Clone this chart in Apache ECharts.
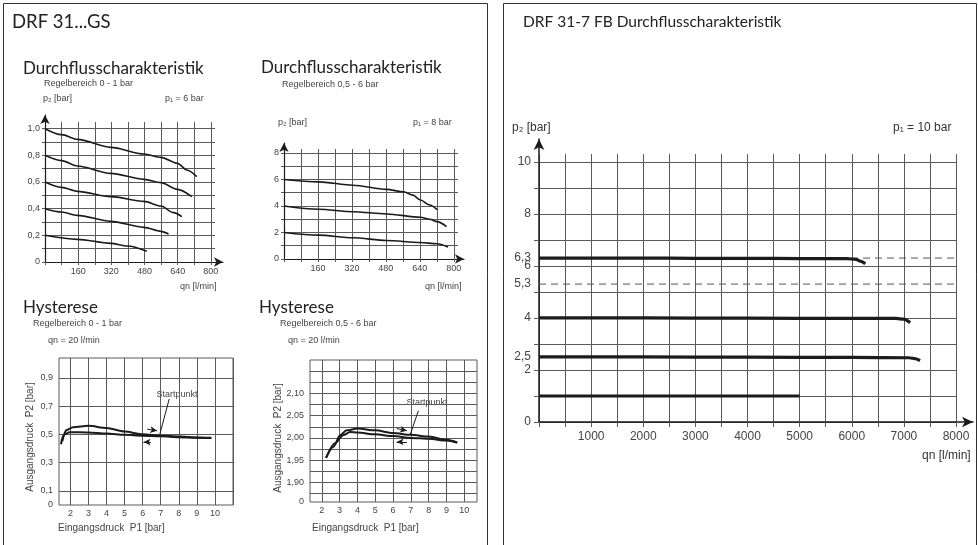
<!DOCTYPE html>
<html><head><meta charset="utf-8">
<script src="https://cdn.jsdelivr.net/npm/echarts@6/dist/echarts.min.js"></script>
<style>html,body{margin:0;padding:0;background:#fff}#c{width:978px;height:545px}</style>
</head><body><div id="c"></div>
<script>
// ================= DATA =================
// Chart A: Durchflusscharakteristik, Regelbereich 0 - 1 bar  (x: qn l/min, y: p2 bar)
const flowA_xTicks = [0,80,160,240,320,400,480,560,640,720,800];
const flowA_xLabels = [160,320,480,640,800];
const flowA_yTicks = [0,0.1,0.2,0.3,0.4,0.5,0.6,0.7,0.8,0.9,1.0];
const flowA_yLabels = [0,0.2,0.4,0.6,0.8,1.0];
const flowA_p2_10 = [[0,1.0],[80,0.955],[156,0.92],[317,0.86],[478,0.81],[559,0.785],[639,0.74],[684,0.69],[732,0.64]];
const flowA_p2_08 = [[0,0.8],[80,0.76],[156,0.72],[317,0.665],[478,0.62],[559,0.595],[639,0.545],[708,0.49]];
const flowA_p2_06 = [[0,0.6],[80,0.56],[156,0.53],[317,0.49],[478,0.455],[559,0.42],[620,0.37],[660,0.34]];
const flowA_p2_04 = [[0,0.4],[80,0.375],[156,0.35],[317,0.305],[478,0.26],[559,0.23],[596,0.21]];
const flowA_p2_02 = [[0,0.2],[156,0.17],[317,0.14],[398,0.12],[491,0.08]];

// Chart B: Durchflusscharakteristik, Regelbereich 0,5 - 6 bar
const flowB_xTicks = [0,80,160,240,320,400,480,560,640,720,800];
const flowB_xLabels = [160,320,480,640,800];
const flowB_yTicks = [0,1,2,3,4,5,6,7,8];
const flowB_yLabels = [0,2,4,6,8];
const flowB_p2_6 = [[0,6.0],[163,5.82],[325,5.57],[483,5.25],[564,5.07],[608,4.82],[643,4.45],[687,4.07],[721,3.72]];
const flowB_p2_4 = [[0,4.0],[163,3.75],[325,3.57],[483,3.4],[643,3.15],[687,3.0],[721,2.82],[766,2.45]];
const flowB_p2_2 = [[0,2.0],[163,1.8],[325,1.6],[483,1.4],[643,1.25],[721,1.15],[773,0.9]];

// Chart C: Hysterese, Regelbereich 0 - 1 bar, qn = 20 l/min (x: P1 bar, y: P2 bar)
const hystC_xTicks = [2,3,4,5,6,7,8,9,10,11];
const hystC_xLabels = [2,3,4,5,6,7,8,9,10];
const hystC_yTicks = [0.1,0.3,0.5,0.7,0.9];
const hystC_yLabels = [0,0.1,0.3,0.5,0.7,0.9];
const hystC_rising = [[1.48,0.43],[1.6,0.49],[1.78,0.53],[2.15,0.55],[3.0,0.56],[4.0,0.545],[5.0,0.52],[6.0,0.5],[7.0,0.49],[8.0,0.485],[9.0,0.478],[9.8,0.476]];
const hystC_falling = [[1.55,0.45],[1.68,0.5],[1.96,0.515],[3.0,0.513],[4.0,0.505],[5.0,0.497],[6.0,0.49],[7.0,0.486],[8.0,0.48],[9.0,0.476],[9.8,0.474]];

// Chart D: Hysterese, Regelbereich 0,5 - 6 bar, qn = 20 l/min
const hystD_xTicks = [2,3,4,5,6,7,8,9,10];
const hystD_xLabels = [2,3,4,5,6,7,8,9,10];
const hystD_yTicks = [1.875,1.9,1.925,1.95,1.975,2.0,2.025,2.05,2.075,2.1,2.125,2.15];
const hystD_yLabels = [1.856,1.90,1.95,2.00,2.05,2.10];
const hystD_rising = [[2.24,1.955],[2.65,1.98],[3.03,2.006],[3.4,2.017],[4.0,2.021],[5.0,2.017],[6.0,2.011],[7.0,2.007],[8.0,2.003],[9.0,1.996],[9.6,1.99]];
const hystD_falling = [[2.24,1.955],[2.75,1.988],[3.2,2.006],[3.6,2.013],[4.0,2.012],[5.0,2.008],[6.0,2.004],[7.0,2.0],[8.0,1.998],[9.0,1.994],[9.6,1.989]];

// Chart E: DRF 31-7 FB Durchflusscharakteristik, p1 = 10 bar
const flowE_xTicks = [0,500,1000,1500,2000,2500,3000,3500,4000,4500,5000,5500,6000,6500,7000,7500,8000];
const flowE_xLabels = [1000,2000,3000,4000,5000,6000,7000,8000];
const flowE_yTicks = [0,1,2,3,4,5,6,7,8,9,10];
const flowE_yLabels = [0,2,2.5,4,5.3,6,6.3,8,10];
const flowE_p2_63 = [[0,6.3],[1000,6.3],[2000,6.3],[3000,6.29],[4000,6.29],[5000,6.28],[5900,6.28],[6080,6.25],[6180,6.17],[6260,6.08]];
const flowE_p2_4 = [[0,4.0],[2000,4.0],[4000,3.99],[6000,3.98],[6850,3.98],[7000,3.95],[7120,3.82]];
const flowE_p2_25 = [[0,2.5],[2000,2.5],[4000,2.49],[6000,2.48],[7100,2.47],[7230,2.43],[7310,2.36]];
const flowE_p2_1 = [[0,1.0],[5000,1.0]];
const flowE_ref63 = [[0,6.3],[8000,6.3]];
const flowE_ref53 = [[0,5.3],[8000,5.3]];

// ================= BUILD =================
const INK = '#1b1b1b', GRIDC = '#5a5a5a', LBL = '#444';
const ARIAL = 'Liberation Sans, Arial, sans-serif';
const TITLE = 'Lato, Noto Sans, sans-serif';
const grids = [], xAxes = [], yAxes = [], series = [];

function addPlot(o) {
  const gi = grids.length;
  grids.push(Object.assign({show: !!o.frame, borderColor: GRIDC, borderWidth: 1, backgroundColor: 'transparent', containLabel: false, outerBoundsMode: 'none'}, o.rect));
  const fs = o.fontSize || 9;
  xAxes.push({type: 'value', gridIndex: gi, min: o.x.min, max: o.x.max,
    axisLine: {show: false, onZero: false},
    axisTick: {show: !o.frame, customValues: o.x.ticks, length: o.tickLen || 3, lineStyle: {color: GRIDC}},
    axisLabel: {customValues: o.x.labels, fontSize: fs, fontFamily: ARIAL, color: LBL, margin: o.x.margin || 5, formatter: o.x.fmt || (v => String(v))},
    splitLine: {show: true, lineStyle: {color: GRIDC, width: 1}}});
  yAxes.push({type: 'value', gridIndex: gi, min: o.y.min, max: o.y.max,
    axisLine: {show: false, onZero: false},
    axisTick: {show: !o.frame, customValues: o.y.ticks, length: o.tickLen || 3, lineStyle: {color: GRIDC}},
    axisLabel: {customValues: o.y.labels, fontSize: fs, fontFamily: ARIAL, color: LBL, margin: o.y.margin || 5, formatter: o.y.fmt || (v => String(v))},
    splitLine: {show: true, lineStyle: {color: GRIDC, width: 1}}});
  (o.lines || []).forEach(l => series.push(Object.assign({type: 'line', xAxisIndex: gi, yAxisIndex: gi, data: l.data,
    showSymbol: false, smooth: l.smooth === undefined ? 0.3 : l.smooth, smoothMonotone: 'x', z: l.z || 3,
    lineStyle: Object.assign({color: INK, width: l.width || 1.6}, l.style || {})}, l.extra || {})));
  if (o.arrows) {
    const ai = grids.length;
    grids.push(Object.assign({show: false, containLabel: false, outerBoundsMode: 'none'}, o.arrows));
    const ax = {show: true, onZero: false, symbol: ['none', 'arrow'], symbolSize: o.arrowSize || [7, 9], lineStyle: {color: INK, width: o.axisW || 1.2}};
    xAxes.push({type: 'value', gridIndex: ai, min: 0, max: 1, axisLine: ax, axisTick: {show: false}, axisLabel: {show: false}, splitLine: {show: false}});
    yAxes.push({type: 'value', gridIndex: ai, min: 0, max: 1, axisLine: ax, axisTick: {show: false}, axisLabel: {show: false}, splitLine: {show: false}});
  }
  return gi;
}
const comma = d => v => (v === 0 ? '0' : v.toFixed(d).replace('.', ','));

function pointerArrows(pairs) { // annotation arrows in data coordinates
  return {symbol: ['none', 'arrow'], symbolSize: [5, 7], silent: true, label: {show: false},
    lineStyle: {color: INK, width: 1, type: 'solid'},
    data: pairs.map(p => [{coord: p[0]}, {coord: p[1]}])};
}
function leader(pair) {
  return {symbol: ['none', 'none'], silent: true, label: {show: false}, lineStyle: {color: INK, width: 1, type: 'solid'},
    data: [[{coord: pair[0]}, {coord: pair[1]}]]};
}

// Chart A
addPlot({rect: {left: 45, top: 122, width: 170, height: 140},
  x: {min: 0, max: 820, ticks: flowA_xTicks, labels: flowA_xLabels},
  y: {min: 0, max: 1.05, ticks: flowA_yTicks, labels: flowA_yLabels, fmt: comma(1)},
  arrows: {left: 45, top: 115, width: 178, height: 147},
  lines: [flowA_p2_10, flowA_p2_08, flowA_p2_06, flowA_p2_04, flowA_p2_02].map(d => ({data: d}))});

// Chart B
addPlot({rect: {left: 284, top: 149, width: 174, height: 110},
  x: {min: 0, max: 820, ticks: flowB_xTicks, labels: flowB_xLabels},
  y: {min: 0, max: 8.3, ticks: flowB_yTicks, labels: flowB_yLabels},
  arrows: {left: 284, top: 143, width: 180, height: 116},
  lines: [flowB_p2_6, flowB_p2_4, flowB_p2_2].map(d => ({data: d}))});

// Chart C
addPlot({rect: {left: 59, top: 358, width: 174, height: 147}, frame: true,
  x: {min: 1.37, max: 11, ticks: hystC_xTicks, labels: hystC_xLabels, margin: 4},
  y: {min: 0, max: 1.04, ticks: hystC_yTicks, labels: hystC_yLabels, fmt: comma(1), margin: 6},
  lines: [
    {data: hystC_rising, width: 2, extra: {markLine: pointerArrows([[[6.25, 0.537], [6.8, 0.525]], [[6.45, 0.445], [6.05, 0.445]]])}},
    {data: hystC_falling, width: 2, extra: {markLine: leader([[7.47, 0.75], [6.95, 0.5]])}}
  ]});

// Chart D
addPlot({rect: {left: 310, top: 360, width: 167, height: 142}, frame: true,
  x: {min: 1.34, max: 10.71, ticks: hystD_xTicks, labels: hystD_xLabels, margin: 4},
  y: {min: 1.856, max: 2.175, ticks: hystD_yTicks, labels: hystD_yLabels, fmt: v => (v < 1.87 ? '0' : v.toFixed(2).replace('.', ',')), margin: 6},
  lines: [
    {data: hystD_rising, width: 2, extra: {markLine: pointerArrows([[[6.2, 2.021], [6.78, 2.016]], [[6.78, 1.991], [6.2, 1.991]]])}},
    {data: hystD_falling, width: 2, extra: {markLine: leader([[7.42, 2.061], [6.96, 2.007]])}}
  ]});

// Chart E
addPlot({rect: {left: 539, top: 154, width: 417, height: 268},
  x: {min: 0, max: 8000, ticks: flowE_xTicks, labels: flowE_xLabels, margin: 9},
  y: {min: 0, max: 10.3, ticks: flowE_yTicks, labels: flowE_yLabels, margin: 8, fmt: v => (Number.isInteger(v) ? String(v) : v.toFixed(1).replace('.', ','))},
  fontSize: 12, tickLen: 5,
  arrows: {left: 539, top: 139, width: 434, height: 283}, arrowSize: [8, 11], axisW: 1.5,
  lines: [
    {data: flowE_ref63, smooth: false, width: 1, style: {type: [7, 5], color: '#555'}, z: 2},
    {data: flowE_ref53, smooth: false, width: 1, style: {type: [7, 5], color: '#555'}, z: 2},
    {data: flowE_p2_63, width: 3.2, smooth: 0.2},
    {data: flowE_p2_4, width: 3.2, smooth: 0.2},
    {data: flowE_p2_25, width: 3.2, smooth: 0.2},
    {data: flowE_p2_1, width: 3.2, smooth: false}
  ]});

function txt(x, y, s, size, font, color, extra) {
  return Object.assign({type: 'text', x: x, y: y, silent: true, style: {text: s, fontSize: size, fontFamily: font || ARIAL, fill: color || LBL, textVerticalAlign: 'middle', textAlign: 'left'}}, extra || {});
}
function ctxt(x, y, s, size, rot) {
  return {type: 'text', x: x, y: y, rotation: rot || 0, silent: true, style: {text: s, fontSize: size, fontFamily: ARIAL, fill: LBL, textAlign: 'center', textVerticalAlign: 'middle'}};
}
const graphics = [
  {type: 'polyline', silent: true, shape: {points: [[3.5, 545], [3.5, 3.5], [487.5, 3.5], [487.5, 545]]}, style: {stroke: '#333', lineWidth: 1, fill: null}},
  {type: 'polyline', silent: true, shape: {points: [[503.5, 545], [503.5, 3.5], [976.5, 3.5], [976.5, 545]]}, style: {stroke: '#333', lineWidth: 1, fill: null}},
  txt(12, 22, 'DRF 31...GS', 18.5, TITLE, '#222'),
  txt(23, 69, 'Durchflusscharakteristik', 17, TITLE, '#222'),
  txt(44, 84, 'Regelbereich 0 - 1 bar', 9),
  txt(43, 99, 'p\u2082 [bar]', 9),
  txt(165, 99, 'p\u2081 = 6 bar', 9),
  txt(180, 287, 'qn [l/min]', 9),
  txt(261, 68, 'Durchflusscharakteristik', 17, TITLE, '#222'),
  txt(282, 85, 'Regelbereich 0,5 - 6 bar', 9),
  txt(278, 123, 'p\u2082 [bar]', 9),
  txt(413, 123, 'p\u2081 = 8 bar', 9),
  txt(425, 287, 'qn [l/min]', 9),
  txt(23, 308, 'Hysterese', 17, TITLE, '#222'),
  txt(33, 324, 'Regelbereich 0 - 1 bar', 9),
  txt(48, 341, 'qn = 20 l/min', 9),
  txt(259, 308, 'Hysterese', 17, TITLE, '#222'),
  txt(280, 324, 'Regelbereich 0,5 - 6 bar', 9),
  txt(288, 341, 'qn = 20 l/min', 9),
  ctxt(30, 437, 'Ausgangsdruck  P2 [bar]', 10, Math.PI / 2),
  ctxt(278, 438, 'Ausgangsdruck  P2 [bar]', 10, Math.PI / 2),
  txt(58, 528, 'Eingangsdruck  P1 [bar]', 10),
  txt(312, 528, 'Eingangsdruck  P1 [bar]', 10),
  ctxt(177, 395, 'Startpunkt', 9),
  ctxt(427, 403, 'Startpunkt', 9),
  txt(523, 22, 'DRF 31-7 FB Durchflusscharakteristik', 15.5, TITLE, '#222'),
  txt(512, 128, 'p\u2082 [bar]', 12, ARIAL, '#333'),
  txt(893, 128, 'p\u2081 = 10 bar', 12, ARIAL, '#333'),
  txt(922, 456, 'qn [l/min]', 12, ARIAL, '#333')
];

const chart = echarts.init(document.getElementById('c'), null, {renderer: 'canvas'});
chart.setOption({
  animation: false, backgroundColor: '#fff',
  grid: grids, xAxis: xAxes, yAxis: yAxes, series: series, graphic: graphics
});
</script></body></html>
